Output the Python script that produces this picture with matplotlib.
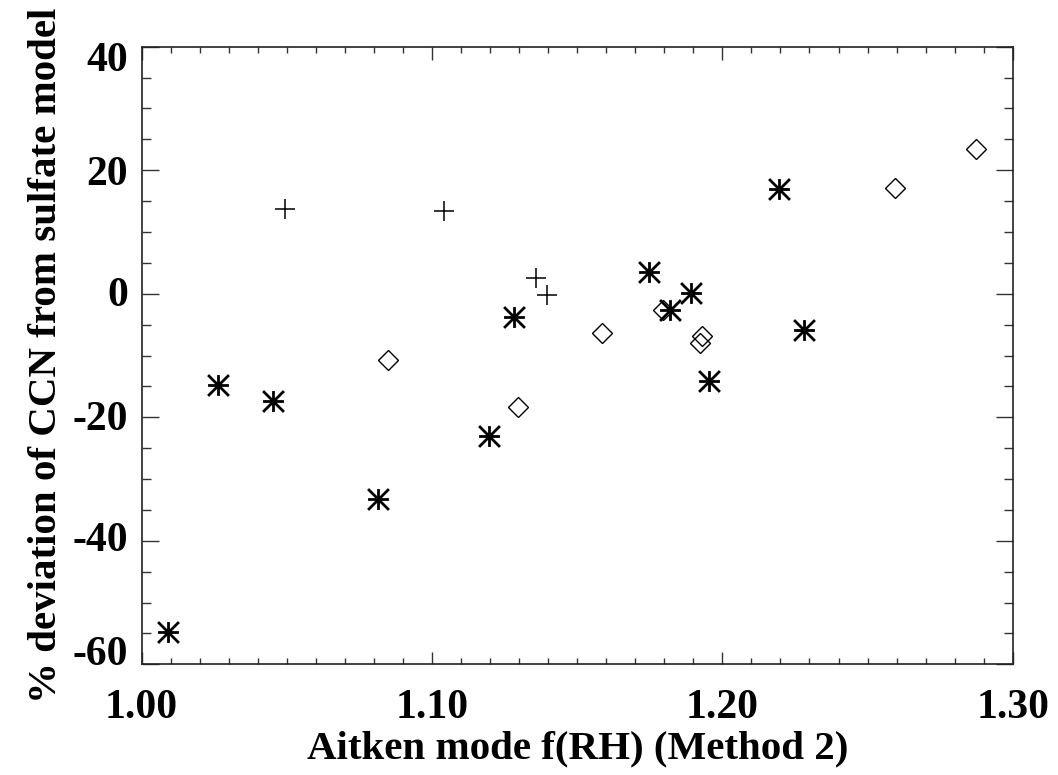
import numpy as np
import matplotlib.pyplot as plt
from matplotlib.path import Path
from matplotlib.ticker import MultipleLocator
from matplotlib.transforms import ScaledTranslation

# asterisk points
ast_x = [1.0090, 1.0262, 1.0453, 1.0815, 1.1197, 1.1282, 1.1749, 1.1821,
         1.1892, 1.1954, 1.2195, 1.2281]
ast_y = [-54.7, -14.8, -17.3, -33.3, -23.0, -3.7, 3.5, -2.7,
         0.1, -14.1, 16.9, -5.9]

# plus points
plus_x = [1.0494, 1.1041, 1.1357, 1.1396]
plus_y = [13.7, 13.4, 2.5, -0.2]

# diamond points
dia_x = [1.0847, 1.1296, 1.1585, 1.1797, 1.1931, 1.1923, 1.2593, 1.2873]
dia_y = [-10.7, -18.3, -6.4, -2.7, -6.8, -7.9, 17.2, 23.4]

x_ticks = [1.00, 1.10, 1.20, 1.30]
x_ticklabels = ['1.00', '1.10', '1.20', '1.30']
y_ticks = [-60, -40, -20, 0, 20, 40]
y_ticklabels = ['-60', '-40', '-20', '0', '20', '40']
# vertical nudge of the y labels in pixels (the original has them squeezed in)
y_label_shift = [14, 4, 2, 2, 0, -10]

plt.rcParams['font.family'] = ['Liberation Serif', 'DejaVu Serif']
plt.rcParams['font.weight'] = 'bold'

# IDL style asterisk marker
ast_marker = Path(
    [(0, -1), (0, 1), (-1, 0), (1, 0), (-1, -1), (1, 1), (-1, 1), (1, -1)],
    [Path.MOVETO, Path.LINETO] * 4)

fig = plt.figure(figsize=(10.58, 7.75), dpi=100)
ax = fig.add_axes([0.1339, 0.1428, 0.8233, 0.7969])

ax.plot(dia_x, dia_y, linestyle='none', marker='D', markersize=10.5,
        markerfacecolor='none', markeredgecolor='black', markeredgewidth=1.0)
ax.plot(plus_x, plus_y, linestyle='none', marker='+', markersize=14,
        markeredgecolor='black', markeredgewidth=1.1)
ax.plot(ast_x, ast_y, linestyle='none', marker=ast_marker, markersize=15,
        markeredgecolor='black', markeredgewidth=2.0)

ax.set_xlim(1.0, 1.3)
ax.set_ylim(-60, 40)
ax.set_xticks(x_ticks)
ax.set_xticklabels(x_ticklabels)
ax.set_yticks(y_ticks)
ax.set_yticklabels(y_ticklabels)
ax.xaxis.set_minor_locator(MultipleLocator(0.01))
ax.yaxis.set_minor_locator(MultipleLocator(5))

ax.tick_params(axis='both', which='both', direction='in', top=True, right=True,
               labelsize=30, width=1.0, color='#333333')
ax.tick_params(axis='x', which='major', length=9, pad=18)
ax.tick_params(axis='x', which='minor', length=4.5)
ax.tick_params(axis='y', which='major', length=12.5, pad=10)
ax.tick_params(axis='y', which='minor', length=6.5)
for sp in ax.spines.values():
    sp.set_linewidth(1.2)
    sp.set_color('#222222')

for lab, dy in zip(ax.get_yticklabels(), y_label_shift):
    lab.set_transform(lab.get_transform() +
                      ScaledTranslation(0, dy / 100, fig.dpi_scale_trans))

ax.set_xlabel('Aitken mode f(RH) (Method 2)', fontsize=29.5, fontweight='bold',
              labelpad=2)
ax.set_ylabel('% deviation of CCN from sulfate model', fontsize=29.5,
              fontweight='bold', labelpad=5)

fig.savefig('out.png', dpi=100)
